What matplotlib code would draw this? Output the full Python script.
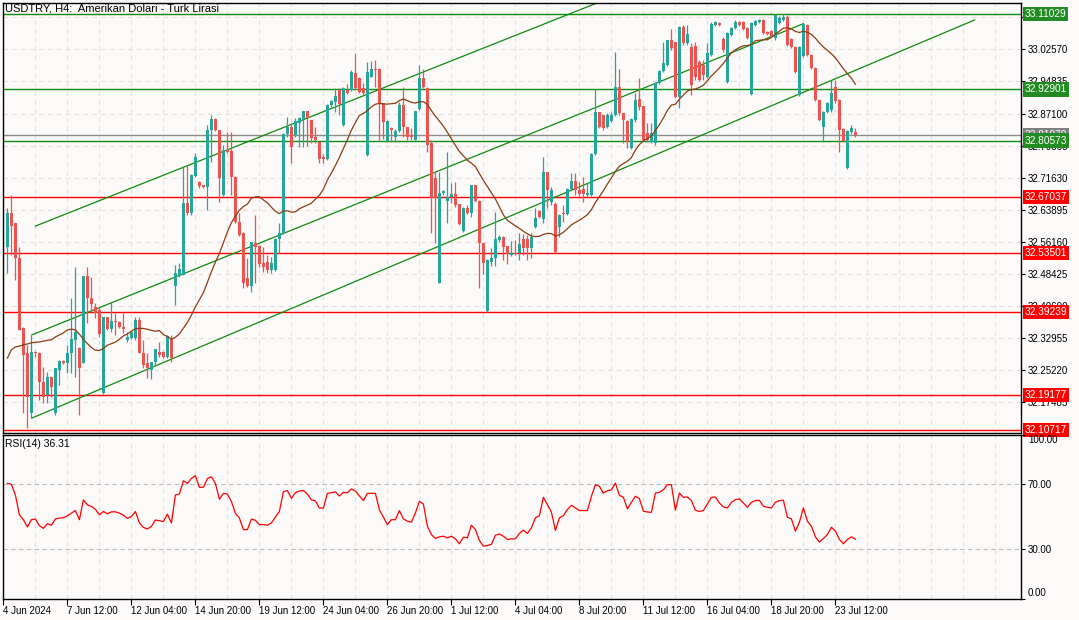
import numpy as np
import pandas as pd
import matplotlib
matplotlib.use("Agg")
import matplotlib.pyplot as plt
from matplotlib.transforms import blended_transform_factory

plt.rcParams['font.family'] = ['Liberation Sans', 'DejaVu Sans']

# USDTRY H4 candles
opens = [32.549, 32.631, 32.607, 32.522, 32.353, 32.292, 32.147, 32.295, 32.292, 32.222,
         32.191, 32.234, 32.147, 32.251, 32.273, 32.268, 32.292, 32.324, 32.305, 32.268,
         32.479, 32.425, 32.404, 32.396, 32.196, 32.379, 32.350, 32.370, 32.367, 32.355,
         32.324, 32.329, 32.329, 32.372, 32.292, 32.268, 32.251, 32.271, 32.295, 32.295,
         32.283, 32.326, 32.454, 32.481, 32.481, 32.655, 32.631, 32.720, 32.706, 32.698,
         32.693, 32.831, 32.858, 32.831, 32.674, 32.783, 32.781, 32.718, 32.609, 32.582,
         32.474, 32.454, 32.558, 32.551, 32.510, 32.512, 32.493, 32.493, 32.568, 32.582,
         32.822, 32.839, 32.819, 32.848, 32.858, 32.877, 32.856, 32.814, 32.802, 32.766,
         32.761, 32.892, 32.899, 32.928, 32.843, 32.928, 32.928, 32.969, 32.957, 32.933,
         32.771, 32.959, 32.979, 32.979, 32.897, 32.805, 32.836, 32.814, 32.829, 32.892,
         32.839, 32.819, 32.807, 32.882, 32.957, 32.933, 32.800, 32.715, 32.462, 32.679,
         32.660, 32.669, 32.677, 32.652, 32.587, 32.643, 32.631, 32.698, 32.660, 32.558,
         32.394, 32.512, 32.522, 32.566, 32.573, 32.551, 32.529, 32.534, 32.534, 32.568,
         32.568, 32.546, 32.597, 32.636, 32.616, 32.730, 32.657, 32.652, 32.597, 32.631,
         32.628, 32.689, 32.708, 32.686, 32.689, 32.674, 32.674, 32.773, 32.875, 32.868,
         32.839, 32.853, 32.868, 32.935, 32.872, 32.853, 32.788, 32.856, 32.906, 32.889,
         32.824, 32.802, 32.800, 32.945, 32.974, 32.988, 33.049, 33.044, 32.911, 33.080,
         33.042, 33.032, 33.034, 32.996, 32.988, 32.959, 33.013, 33.085, 33.090, 33.051,
         32.947, 33.061, 33.078, 33.092, 33.092, 33.078, 32.918, 33.085, 33.092, 33.097,
         33.068, 33.071, 33.054, 33.090, 33.097, 33.105, 33.051, 33.032, 32.916, 33.010,
         33.085, 33.013, 32.981, 32.904, 32.839, 32.875, 32.880, 32.935, 32.904, 32.834,
         32.740, 32.827, 32.826]
highs = [32.643, 32.674, 32.607, 32.549, 32.355, 32.312, 32.336, 32.297, 32.295, 32.259,
         32.246, 32.234, 32.256, 32.276, 32.275, 32.312, 32.425, 32.500, 32.307, 32.479,
         32.500, 32.476, 32.413, 32.401, 32.379, 32.379, 32.416, 32.389, 32.370, 32.389,
         32.343, 32.345, 32.379, 32.379, 32.324, 32.292, 32.271, 32.302, 32.319, 32.297,
         32.336, 32.336, 32.505, 32.510, 32.744, 32.744, 32.725, 32.776, 32.708, 32.699,
         32.843, 32.868, 32.861, 32.831, 32.795, 32.827, 32.827, 32.720, 32.631, 32.585,
         32.522, 32.561, 32.626, 32.553, 32.549, 32.529, 32.524, 32.570, 32.607, 32.824,
         32.863, 32.848, 32.860, 32.863, 32.878, 32.878, 32.856, 32.839, 32.802, 32.773,
         32.894, 32.904, 32.933, 32.933, 32.935, 32.942, 32.977, 33.017, 32.959, 32.945,
         32.996, 32.998, 33.001, 32.981, 32.897, 32.856, 32.839, 32.834, 32.899, 32.935,
         32.839, 32.836, 32.877, 32.988, 32.979, 32.935, 32.807, 32.730, 32.730, 32.686,
         32.778, 32.703, 32.706, 32.652, 32.645, 32.650, 32.698, 32.699, 32.662, 32.558,
         32.519, 32.546, 32.633, 32.578, 32.575, 32.551, 32.563, 32.566, 32.582, 32.580,
         32.578, 32.582, 32.643, 32.638, 32.766, 32.730, 32.693, 32.657, 32.628, 32.650,
         32.691, 32.727, 32.727, 32.706, 32.718, 32.703, 32.776, 32.931, 32.875, 32.868,
         32.873, 32.875, 33.020, 32.979, 32.872, 32.856, 32.861, 32.921, 32.957, 32.889,
         32.848, 32.848, 32.947, 32.977, 33.044, 33.049, 33.076, 33.044, 33.083, 33.085,
         33.085, 33.042, 33.044, 33.001, 33.001, 33.042, 33.092, 33.095, 33.092, 33.056,
         33.068, 33.080, 33.097, 33.095, 33.095, 33.080, 33.092, 33.097, 33.100, 33.100,
         33.071, 33.073, 33.112, 33.107, 33.112, 33.109, 33.054, 33.034, 33.034, 33.090,
         33.088, 33.015, 32.984, 32.906, 32.877, 32.899, 32.952, 32.952, 32.906, 32.836,
         32.831, 32.843, 32.836]
lows = [32.486, 32.529, 32.469, 32.348, 32.147, 32.111, 32.135, 32.283, 32.179, 32.172,
        32.172, 32.186, 32.142, 32.215, 32.266, 32.244, 32.244, 32.234, 32.142, 32.268,
        32.365, 32.392, 32.377, 32.331, 32.193, 32.348, 32.343, 32.336, 32.353, 32.341,
        32.319, 32.327, 32.324, 32.292, 32.256, 32.232, 32.229, 32.263, 32.283, 32.280,
        32.280, 32.271, 32.409, 32.476, 32.481, 32.626, 32.626, 32.718, 32.691, 32.691,
        32.638, 32.754, 32.829, 32.657, 32.672, 32.776, 32.674, 32.607, 32.575, 32.450,
        32.452, 32.440, 32.462, 32.500, 32.488, 32.486, 32.486, 32.491, 32.534, 32.580,
        32.815, 32.752, 32.815, 32.790, 32.790, 32.793, 32.800, 32.800, 32.752, 32.752,
        32.759, 32.887, 32.875, 32.868, 32.841, 32.918, 32.926, 32.928, 32.921, 32.916,
        32.768, 32.959, 32.935, 32.807, 32.810, 32.802, 32.802, 32.802, 32.826, 32.814,
        32.807, 32.807, 32.807, 32.880, 32.933, 32.778, 32.582, 32.558, 32.462, 32.674,
        32.607, 32.655, 32.645, 32.602, 32.585, 32.628, 32.621, 32.657, 32.450, 32.483,
        32.392, 32.503, 32.503, 32.561, 32.517, 32.507, 32.527, 32.529, 32.517, 32.529,
        32.517, 32.522, 32.594, 32.619, 32.607, 32.643, 32.650, 32.534, 32.573, 32.609,
        32.626, 32.686, 32.674, 32.672, 32.657, 32.669, 32.672, 32.771, 32.836, 32.831,
        32.836, 32.851, 32.865, 32.868, 32.800, 32.788, 32.786, 32.851, 32.880, 32.805,
        32.802, 32.800, 32.795, 32.942, 32.972, 32.986, 33.025, 32.909, 32.885, 33.037,
        33.037, 32.916, 32.952, 32.950, 32.952, 32.957, 33.010, 33.083, 33.083, 33.020,
        32.945, 33.059, 33.075, 33.083, 33.073, 33.051, 32.916, 33.083, 33.090, 33.063,
        33.061, 33.056, 33.049, 33.088, 33.095, 33.034, 33.030, 32.969, 32.913, 33.008,
        33.010, 32.979, 32.901, 32.853, 32.802, 32.872, 32.875, 32.897, 32.778, 32.802,
        32.737, 32.822, 32.814]
closes = [32.631, 32.599, 32.522, 32.348, 32.288, 32.186, 32.295, 32.292, 32.222, 32.186,
          32.234, 32.210, 32.256, 32.273, 32.268, 32.292, 32.326, 32.343, 32.256, 32.479,
          32.425, 32.411, 32.389, 32.338, 32.379, 32.350, 32.370, 32.367, 32.355, 32.350,
          32.331, 32.343, 32.372, 32.292, 32.263, 32.256, 32.271, 32.302, 32.288, 32.283,
          32.333, 32.280, 32.486, 32.496, 32.655, 32.631, 32.723, 32.766, 32.696, 32.693,
          32.831, 32.858, 32.831, 32.715, 32.783, 32.778, 32.718, 32.609, 32.578, 32.462,
          32.454, 32.561, 32.549, 32.507, 32.500, 32.493, 32.510, 32.568, 32.582, 32.822,
          32.839, 32.790, 32.853, 32.860, 32.877, 32.860, 32.812, 32.807, 32.761, 32.761,
          32.892, 32.901, 32.913, 32.894, 32.933, 32.921, 32.972, 32.933, 32.923, 32.921,
          32.972, 32.979, 32.977, 32.897, 32.851, 32.853, 32.831, 32.829, 32.892, 32.839,
          32.814, 32.814, 32.877, 32.957, 32.935, 32.795, 32.667, 32.667, 32.679, 32.684,
          32.669, 32.677, 32.650, 32.604, 32.643, 32.631, 32.698, 32.660, 32.558, 32.510,
          32.517, 32.522, 32.568, 32.573, 32.549, 32.532, 32.534, 32.532, 32.556, 32.546,
          32.546, 32.573, 32.619, 32.621, 32.730, 32.686, 32.686, 32.536, 32.626, 32.628,
          32.689, 32.708, 32.686, 32.677, 32.677, 32.679, 32.773, 32.875, 32.839, 32.836,
          32.868, 32.868, 32.935, 32.872, 32.856, 32.802, 32.858, 32.904, 32.887, 32.807,
          32.807, 32.824, 32.945, 32.974, 32.993, 33.049, 33.030, 32.911, 33.080, 33.042,
          33.063, 32.940, 32.959, 32.952, 32.964, 33.017, 33.088, 33.092, 33.085, 33.025,
          33.066, 33.078, 33.092, 33.085, 33.075, 33.054, 33.090, 33.095, 33.097, 33.066,
          33.063, 33.059, 33.109, 33.102, 33.105, 33.037, 33.032, 32.972, 33.032, 33.088,
          33.013, 32.981, 32.904, 32.856, 32.875, 32.897, 32.921, 32.901, 32.831, 32.805,
          32.829, 32.836, 32.819]

# moving average before it has 20 bars of history
ma_head = [32.280, 32.300, 32.307, 32.309, 32.312, 32.314, 32.317, 32.318, 32.319, 32.321,
           32.323, 32.324, 32.331, 32.336, 32.341, 32.348, 32.350, 32.348, 32.338]

rsi = [70.4, 69.8, 63.3, 51.2, 48.2, 43.7, 48.2, 48.6, 44.5, 42.9,
       45.8, 44.8, 48.6, 49.2, 49.4, 50.6, 52.2, 53.8, 48.2, 60.3,
       57.3, 56.3, 54.6, 51.2, 53.2, 51.8, 53.0, 53.0, 52.2, 51.0,
       49.0, 50.2, 53.2, 46.2, 43.5, 42.5, 44.1, 48.0, 47.6, 47.0,
       51.6, 46.2, 63.3, 63.9, 72.0, 70.4, 73.4, 75.1, 68.0, 68.0,
       73.4, 74.4, 70.4, 60.7, 64.3, 63.9, 59.3, 52.2, 49.2, 42.1,
       42.1, 48.6, 47.8, 45.2, 45.2, 44.8, 46.2, 49.8, 53.2, 65.4,
       66.0, 61.3, 64.7, 65.8, 66.0, 63.9, 60.3, 59.7, 55.3, 55.3,
       64.3, 64.7, 65.2, 62.7, 64.9, 64.7, 67.0, 65.8, 62.7, 59.9,
       64.3, 64.3, 64.3, 54.2, 49.8, 45.2, 48.2, 48.2, 53.8, 48.7,
       47.3, 46.7, 52.3, 59.4, 57.8, 44.2, 39.1, 36.7, 37.7, 38.1,
       37.1, 38.1, 36.5, 33.5, 37.5, 37.1, 44.8, 42.2, 35.5, 32.0,
       32.4, 33.1, 38.7, 39.5, 38.1, 36.1, 36.5, 36.5, 39.8, 41.8,
       39.8, 43.2, 49.3, 50.7, 61.9, 57.4, 52.9, 41.6, 49.3, 50.7,
       54.4, 57.0, 55.4, 53.8, 53.8, 53.8, 62.5, 69.6, 68.6, 64.5,
       65.9, 66.5, 70.6, 63.1, 61.9, 54.8, 58.8, 62.5, 61.1, 53.4,
       52.9, 52.7, 64.5, 64.9, 66.5, 69.6, 69.6, 54.0, 64.5, 61.9,
       62.1, 59.9, 54.0, 53.2, 53.8, 57.8, 61.9, 62.1, 58.4, 56.0,
       55.4, 58.8, 60.5, 60.9, 58.4, 55.8, 58.8, 59.9, 60.1, 56.4,
       55.8, 55.4, 58.8, 59.9, 60.1, 49.7, 48.7, 41.2, 46.7, 55.4,
       47.3, 44.2, 37.7, 34.5, 36.7, 39.1, 43.6, 41.2, 36.1, 33.5,
       36.1, 37.7, 36.31]

green_levels = [33.11029, 32.92901, 32.80573]
red_levels = [32.67037, 32.53501, 32.39239, 32.19177, 32.10717]
bid = 32.81979

# channel lines: (bar, price) start and end
channels = [((7.0, 32.599), (150.0, 33.148)),
            ((6.1, 32.336), (199.0, 33.088)),
            ((6.1, 32.135), (241.8, 33.097))]

price_ticks = [33.10305, 33.02570, 32.94835, 32.87100, 32.79365, 32.71630, 32.63895,
               32.56160, 32.48425, 32.40690, 32.32955, 32.25220, 32.17485]
date_pos = [-1, 15, 31, 47, 63, 79, 95, 111, 127, 143, 159, 175, 191, 207]
date_labels = ["4 Jun 2024", "7 Jun 12:00", "12 Jun 04:00", "14 Jun 20:00", "19 Jun 12:00",
               "24 Jun 04:00", "26 Jun 20:00", "1 Jul 12:00", "4 Jul 04:00", "8 Jul 20:00",
               "11 Jul 12:00", "16 Jul 04:00", "18 Jul 20:00", "23 Jul 12:00"]

assert len(opens) == len(highs) == len(lows) == len(closes) == len(rsi) == 213

BG = "#fcf9f9"
UP = "#26a69a"
DN = "#ef5350"
GREEN = "#0f8a0f"
GRID = "#e4dede"

W, H = 1079, 620
fig = plt.figure(figsize=(W / 100, H / 100), dpi=100)
fig.patch.set_facecolor(BG)
ax = fig.add_axes([3 / W, 1 - 433 / H, 1018 / W, 430 / H])
ax2 = fig.add_axes([3 / W, 1 - 598.5 / H, 1018 / W, 163.5 / H], sharex=ax)
for a in (ax, ax2):
    a.set_facecolor(BG)
    for s in a.spines.values():
        s.set_color("black")
        s.set_linewidth(1.0)
    for g in range(-1, 254, 8):
        a.axvline(g, color=GRID, lw=0.8, ls=(0, (4, 4)), zorder=0)

x = np.arange(len(closes))
o = np.array(opens)
c = np.array(closes)
h = np.array(highs)
l = np.array(lows)
cols = np.where(c >= o, UP, DN)

for t in price_ticks:
    ax.axhline(t, color=GRID, lw=0.8, ls=(0, (4, 4)), zorder=0)

ax.axhline(bid, color="#8c8c8c", lw=1.0, zorder=1)
for v in green_levels:
    ax.axhline(v, color=GREEN, lw=1.0, zorder=1)
for v in red_levels:
    ax.axhline(v, color="#ff0000", lw=1.0, zorder=1)
for (x0, y0), (x1, y1) in channels:
    ax.plot([x0, x1], [y0, y1], color=GREEN, lw=0.9, zorder=2)

ax.vlines(x, l, h, colors=cols, lw=0.9, zorder=3)
ax.bar(x, np.maximum(np.abs(c - o), 0.0012), bottom=np.minimum(o, c), width=0.75,
       color=cols, linewidth=0, zorder=4)

ma = pd.Series(closes).rolling(20).mean().to_numpy()
ma[:19] = ma_head
ax.plot(x, ma, color="#8b3e12", lw=0.9, zorder=5)

ax.set_xlim(-1.1, 253.4)
ax.set_ylim(32.099, 33.138)
ax.yaxis.tick_right()
ax.set_yticks(price_ticks)
ax.set_yticklabels([f"{t:.5f}" for t in price_ticks])
ax.tick_params(axis="y", direction="out", length=3, width=0.8, pad=2, labelsize=7)
ax.tick_params(axis="x", bottom=False, labelbottom=False)
ax.text(0.002, 0.998, "USDTRY, H4:  Amerikan Dolari - Turk Lirasi", transform=ax.transAxes,
        ha="left", va="top", fontsize=8)

tr = blended_transform_factory(ax.transAxes, ax.transData)
boxes = [(bid, "#808080")] + [(v, "#228b22") for v in green_levels] + [(v, "#ff0000") for v in red_levels]
for k, (v, fc) in enumerate(boxes):
    ax.text(1.0035, v, f"{v:.5f}", transform=tr, ha="left", va="center", fontsize=7.3,
            color="white", clip_on=False, zorder=10 + k,
            bbox=dict(boxstyle="square,pad=0.2", fc=fc, ec="none"))

# RSI panel
ax2.plot(x, rsi, color="#ff0000", lw=0.9, zorder=3)
for lv in (70, 30):
    ax2.axhline(lv, color="#bdbdbd", lw=0.8, ls=(0, (4, 3)), zorder=1)
ax2.set_ylim(0, 100)
ax2.yaxis.tick_right()
ax2.set_yticks([0, 30, 70, 100])
lbls = ax2.set_yticklabels(["0.00", "30.00", "70.00", "100.00"])
lbls[0].set_verticalalignment("bottom")
lbls[3].set_verticalalignment("top")
ax2.tick_params(axis="y", direction="out", length=3, width=0.8, pad=2, labelsize=7)
ax2.text(0.002, 0.975, "RSI(14) 36.31", transform=ax2.transAxes, ha="left", va="top", fontsize=7.5)

ax2.set_xticks(date_pos)
xl = ax2.set_xticklabels(date_labels)
for t in xl:
    t.set_horizontalalignment("left")
ax2.tick_params(axis="x", direction="out", length=4, width=0.8, pad=1.5, labelsize=7)

fig.savefig("out.png", dpi=100, facecolor=BG)
